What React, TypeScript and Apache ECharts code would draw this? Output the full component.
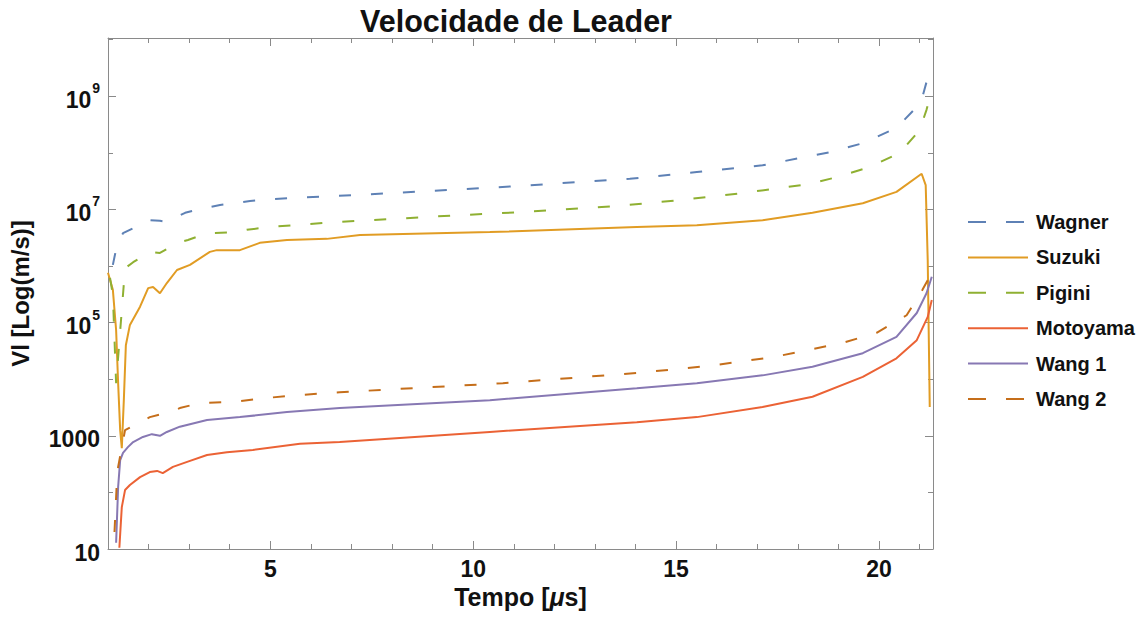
import React, { useEffect, useRef } from "react";
import * as echarts from "echarts";

const FONT = "'Liberation Sans', Arial, Helvetica, sans-serif";

// Axis domain & ticks
const xMin = 1.0;
const xMax = 21.33;
const yMin = 10;
const yMax = 1.07e10;
const xMajorTicks = [5, 10, 15, 20];
const xMinorTicks = [2, 3, 4, 6, 7, 8, 9, 11, 12, 13, 14, 16, 17, 18, 19, 21];
const yMajorTicks = [10, 1e3, 1e5, 1e7, 1e9];
const yMinorTicks = [100, 1e4, 1e6, 1e8, 1e10];

// Series: [tempo (µs), velocidade (m/s)]
const wagner = [
  [1.12, 1.05e6], [1.22, 2.34e6], [1.37, 3.8e6], [1.71, 5.01e6], [2.03, 6.46e6],
  [2.28, 6.31e6], [2.45, 6.03e6], [2.9, 8.71e6], [3.27, 1.02e7], [3.76, 1.2e7],
  [4.5, 1.41e7], [4.99, 1.51e7], [5.73, 1.62e7], [7.03, 1.78e7], [10.33, 2.4e7],
  [13.86, 3.47e7], [15.51, 4.57e7], [17.13, 6.03e7], [18.78, 1.02e8], [19.6, 1.48e8],
  [20.43, 2.75e8], [20.93, 6.46e8], [21.07, 9.77e8], [21.25, 2.88e9],
];
const suzuki = [
  [1.0, 7.59e5], [1.12, 3.8e5], [1.2, 7.41e4], [1.25, 8.51e3], [1.3, 1.26e3],
  [1.34, 6.03e2], [1.39, 4.27e3], [1.44, 3.98e4], [1.54, 9.12e4], [1.79, 1.91e5],
  [1.99, 4.07e5], [2.11, 4.27e5], [2.28, 3.31e5], [2.45, 5.01e5], [2.7, 8.51e5],
  [3.02, 1.05e6], [3.51, 1.78e6], [3.68, 1.91e6], [4.25, 1.91e6], [4.74, 2.57e6],
  [5.41, 2.88e6], [6.39, 3.02e6], [7.21, 3.55e6], [10.41, 3.98e6], [14.03, 4.9e6],
  [15.51, 5.25e6], [17.13, 6.46e6], [18.36, 8.71e6], [19.6, 1.29e7], [20.43, 2.04e7],
  [21.05, 4.27e7], [21.15, 2.69e7], [21.2, 1.26e6], [21.25, 3.24e3],
];
const pigini = [
  [1.05, 6.17e5], [1.12, 3.09e5], [1.2, 8.51e3], [1.42, 9.12e5], [1.62, 1.17e6],
  [2.03, 1.78e6], [2.28, 1.7e6], [2.72, 2.57e6], [2.97, 2.88e6], [3.44, 3.8e6],
  [4.18, 3.98e6], [4.42, 4.37e6], [4.99, 4.9e6], [5.73, 5.37e6], [6.71, 6.03e6],
  [9.67, 7.94e6], [11.15, 8.91e6], [13.54, 1.15e7], [15.16, 1.48e7], [16.64, 1.95e7],
  [18.29, 2.82e7], [18.96, 3.72e7], [19.77, 5.62e7], [20.51, 1.0e8], [21.0, 2.51e8],
  [21.17, 5.75e8], [21.27, 1.05e9],
];
const motoyama = [
  [1.28, 1.05e1], [1.34, 5.5e1], [1.42, 1.1e2], [1.54, 1.35e2], [1.79, 1.86e2],
  [2.03, 2.29e2], [2.21, 2.4e2], [2.35, 2.19e2], [2.6, 2.82e2], [2.95, 3.47e2],
  [3.44, 4.57e2], [3.93, 5.13e2], [4.57, 5.62e2], [5.73, 7.24e2], [6.71, 7.76e2],
  [10.41, 1.17e3], [14.03, 1.74e3], [15.51, 2.14e3], [17.13, 3.24e3], [18.36, 4.9e3],
  [19.6, 1.1e4], [20.43, 2.34e4], [20.93, 4.9e4], [21.2, 1.26e5], [21.3, 2.51e5],
];
const wang1 = [
  [1.2, 1.29e1], [1.25, 1.26e2], [1.3, 3.72e2], [1.37, 5.01e2], [1.49, 6.31e2],
  [1.62, 7.76e2], [1.86, 9.55e2], [2.08, 1.07e3], [2.28, 1.0e3], [2.45, 1.17e3],
  [2.77, 1.45e3], [3.44, 1.91e3], [4.25, 2.14e3], [5.41, 2.63e3], [6.71, 3.09e3],
  [10.41, 4.27e3], [14.03, 6.92e3], [15.51, 8.51e3], [17.13, 1.17e4], [18.36, 1.66e4],
  [19.6, 2.88e4], [20.43, 5.62e4], [20.93, 1.48e5], [21.17, 3.31e5], [21.3, 6.46e5],
];
const wang2 = [
  [1.16, 2.0e1], [1.22, 1.66e2], [1.25, 2.82e2], [1.42, 1.26e3], [1.79, 1.74e3],
  [2.03, 2.14e3], [2.53, 2.63e3], [2.77, 3.09e3], [3.27, 3.8e3], [4.08, 3.98e3],
  [4.92, 4.68e3], [5.73, 5.25e3], [6.71, 5.89e3], [10.73, 8.51e3], [14.03, 1.29e4],
  [15.75, 1.7e4], [17.38, 2.45e4], [19.1, 4.37e4], [19.94, 6.61e4], [20.68, 1.35e5],
  [21.07, 3.8e5], [21.3, 7.59e5],
];

const seriesNames = ["Wagner", "Suzuki", "Pigini", "Motoyama", "Wang 1", "Wang 2"];
const seriesData = [wagner, suzuki, pigini, motoyama, wang1, wang2];
const seriesColors = ["#5E81B5", "#E19C24", "#8FB032", "#EB6235", "#8778B3", "#C56E1A"];
const seriesDashed = [true, false, true, false, false, true];

const FRAME = "#8a8a8a";

function xAxisDef(position: "top" | "bottom", ticks: number[], len: number, main: boolean) {
  return {
    type: "value",
    position,
    min: xMin,
    max: xMax,
    axisLine: { show: main, onZero: false, lineStyle: { color: FRAME, width: 1 } },
    axisTick: { show: true, inside: true, length: len, customValues: ticks, lineStyle: { color: FRAME, width: 1 } },
    axisLabel: main && position === "bottom"
      ? { show: true, customValues: xMajorTicks, fontFamily: FONT, fontSize: 23, fontWeight: "bold", color: "#111", margin: 8 }
      : { show: false },
    splitLine: { show: false },
    ...(main && position === "bottom"
      ? {
          name: "{n|Tempo [}{i|μ}{n|s]}",
          nameLocation: "middle",
          nameGap: 30,
          nameTextStyle: {
            rich: {
              n: { fontFamily: FONT, fontSize: 25, fontWeight: "bold", color: "#111" },
              i: { fontFamily: FONT, fontSize: 25, fontWeight: "bold", fontStyle: "italic", color: "#111" },
            },
          },
        }
      : {}),
  };
}

function yAxisDef(position: "left" | "right", ticks: number[], len: number, main: boolean) {
  return {
    type: "log",
    logBase: 10,
    position,
    min: yMin,
    max: yMax,
    axisLine: { show: main, onZero: false, lineStyle: { color: FRAME, width: 1 } },
    axisTick: { show: true, inside: true, length: len, customValues: ticks, lineStyle: { color: FRAME, width: 1 } },
    axisLabel: main && position === "left"
      ? {
          show: true,
          customValues: yMajorTicks,
          margin: 8,
          formatter: (v: number) => {
            const e = Math.round(Math.log10(v));
            if (e <= 3) return `{b|${Math.round(v)}}`;
            return `{b|10}{s|${e}}`;
          },
          rich: {
            b: { fontFamily: FONT, fontSize: 23, fontWeight: "bold", color: "#111", lineHeight: 30, verticalAlign: "bottom" },
            s: { fontFamily: FONT, fontSize: 14, fontWeight: "bold", color: "#111", lineHeight: 30, verticalAlign: "top", padding: [0, 0, 0, 1] },
          },
        }
      : { show: false },
    splitLine: { show: false },
    ...(main && position === "left"
      ? {
          name: "Vl [Log(m/s)]",
          nameLocation: "middle",
          nameGap: 76,
          nameRotate: 90,
          nameTextStyle: { fontFamily: FONT, fontSize: 24, fontWeight: "bold", color: "#111" },
        }
      : {}),
  };
}

export default function App() {
  const ref = useRef<HTMLDivElement>(null);
  useEffect(() => {
    if (!ref.current) return;
    const chart = echarts.init(ref.current, null, { renderer: "svg" });
    const option = {
      animation: false,
      backgroundColor: "#ffffff",
      grid: { left: 108, right: 210, top: 38, bottom: 72, containLabel: false },
      graphic: [
        {
          type: "text",
          x: 516,
          y: 21,
          style: {
            text: "Velocidade de Leader",
            fontFamily: FONT,
            fontSize: 30.5,
            fontWeight: "bold",
            fill: "#111",
            textAlign: "center",
            textVerticalAlign: "middle",
          },
        },
      ],
      legend: {
        orient: "vertical",
        left: 962,
        top: 207,
        itemWidth: 60,
        itemHeight: 20,
        itemGap: 15.4,
        itemStyle: { opacity: 0 },
        data: seriesNames.map((name, i) => ({
          name,
          itemStyle: { opacity: 0 },
          lineStyle: { color: seriesColors[i], width: 2, type: seriesDashed[i] ? [18, 20] : "solid" },
        })),
        textStyle: { fontFamily: FONT, fontSize: 20, fontWeight: "bold", color: "#111", padding: [0, 0, 0, 3] },
      },
      xAxis: [
        xAxisDef("bottom", xMajorTicks, 8, true),
        xAxisDef("bottom", xMinorTicks, 5, false),
        xAxisDef("top", xMajorTicks, 8, true),
        xAxisDef("top", xMinorTicks, 5, false),
      ],
      yAxis: [
        yAxisDef("left", yMajorTicks, 8, true),
        yAxisDef("left", yMinorTicks, 5, false),
        yAxisDef("right", yMajorTicks, 8, true),
        yAxisDef("right", yMinorTicks, 5, false),
      ],
      series: seriesNames.map((name, i) => ({
        name,
        type: "line",
        xAxisIndex: 0,
        yAxisIndex: 0,
        data: seriesData[i],
        symbol: "none",
        showSymbol: false,
        clip: true,
        lineStyle: { color: seriesColors[i], width: 2, type: seriesDashed[i] ? [12, 20] : "solid" },
        itemStyle: { color: seriesColors[i] },
      })),
    };
    chart.setOption(option as any);
    return () => chart.dispose();
  }, []);
  return <div ref={ref} style={{ position: "fixed", left: 0, top: 0, width: 1143, height: 621 }} />;
}
